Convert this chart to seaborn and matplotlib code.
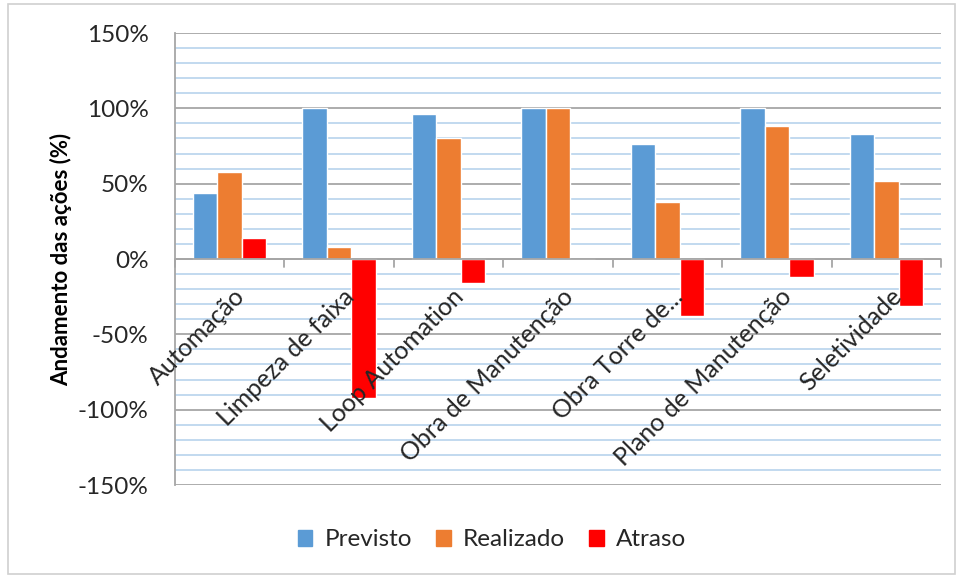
import matplotlib
matplotlib.use("Agg")
import matplotlib.pyplot as plt
import matplotlib.patches as mpatches
from matplotlib.ticker import MultipleLocator, FuncFormatter
import pandas as pd
import seaborn as sns

# Data (in %)
categorias = ['Automação', 'Limpeza de faixa', 'Loop Automation', 'Obra de Manutenção',
              'Obra Torre de...', 'Plano de Manutenção', 'Seletividade']
previsto = [44, 100, 96, 100, 76, 100, 83]
realizado = [58, 8, 80, 100, 38, 88, 52]
atraso = [14, -92, -16, 0, -38, -12, -31]
series = ['Previsto', 'Realizado', 'Atraso']

df = pd.DataFrame({'categoria': categorias * 3,
                   'serie': [s for s in series for _ in categorias],
                   'valor': previsto + realizado + atraso})

sns.set_style('white')
plt.rcParams['font.family'] = ['Lato', 'DejaVu Sans']

fig = plt.figure(figsize=(9.57, 5.75), dpi=100)
ax = fig.add_axes([175 / 957, 1 - 485 / 575, (941 - 175) / 957, (485 - 33) / 575])

palette = {'Previsto': '#5B9BD5', 'Realizado': '#ED7D31', 'Atraso': '#FF0000'}
sns.barplot(data=df, x='categoria', y='valor', hue='serie', hue_order=series,
            palette=palette, width=0.67, gap=0, saturation=1, ax=ax, legend=False)

ax.set_ylim(-150, 150)
ax.set_xlim(-0.5, len(categorias) - 0.5)
ax.yaxis.set_major_locator(MultipleLocator(50))
ax.yaxis.set_minor_locator(MultipleLocator(10))
ax.yaxis.set_major_formatter(FuncFormatter(lambda v, p: f'{v:.0f}%'))
ax.grid(which='minor', axis='y', color='#BDD7EE', linewidth=1.3, zorder=0)
ax.grid(which='major', axis='y', color='#A6A6A6', linewidth=1.3, zorder=0)
ax.set_axisbelow(True)

for s in ['top', 'right', 'bottom']:
    ax.spines[s].set_visible(False)
ax.spines['left'].set_color('#A6A6A6')
ax.spines['left'].set_linewidth(1.3)
ax.axhline(0, color='#A6A6A6', linewidth=1.3, zorder=1)

# category ticks on the zero line
for i in range(len(categorias) + 1):
    ax.plot([i - 0.5, i - 0.5], [0, -5], color='#A6A6A6', linewidth=1.3, clip_on=False, zorder=1)

ax.tick_params(axis='y', which='both', length=0, labelsize=17.5, colors='#262626', pad=19)
ax.set_xticks(range(len(categorias)))
ax.set_xticklabels([])
ax.tick_params(axis='x', length=0)

# category labels drawn above the bars, as in the reference
for i, cat in enumerate(categorias):
    ax.text(i + 0.03, -17, cat, rotation=45, ha='right', va='top', rotation_mode='anchor',
            fontsize=18, color='#262626', zorder=5)

ax.set_xlabel('')
ax.set_ylabel('Andamento das ações (%)', fontsize=16, fontweight='bold', color='black', labelpad=4)

handles = [mpatches.Patch(color=palette[s], label=s) for s in series]
ax.legend(handles=handles, loc='center', bbox_to_anchor=(492 / 957, 1 - 540 / 575),
          bbox_transform=fig.transFigure, ncol=3, frameon=False, fontsize=17.5,
          handlelength=0.6, handleheight=0.6, columnspacing=1.0, handletextpad=0.5)

fig.patches.append(mpatches.Rectangle((8 / 957, 0.002), 1 - 10 / 957, 1 - 4 / 575 - 0.002,
                                      transform=fig.transFigure, fill=False,
                                      edgecolor='#D0D0D0', linewidth=1.2))

fig.savefig('out.png', dpi=100)
